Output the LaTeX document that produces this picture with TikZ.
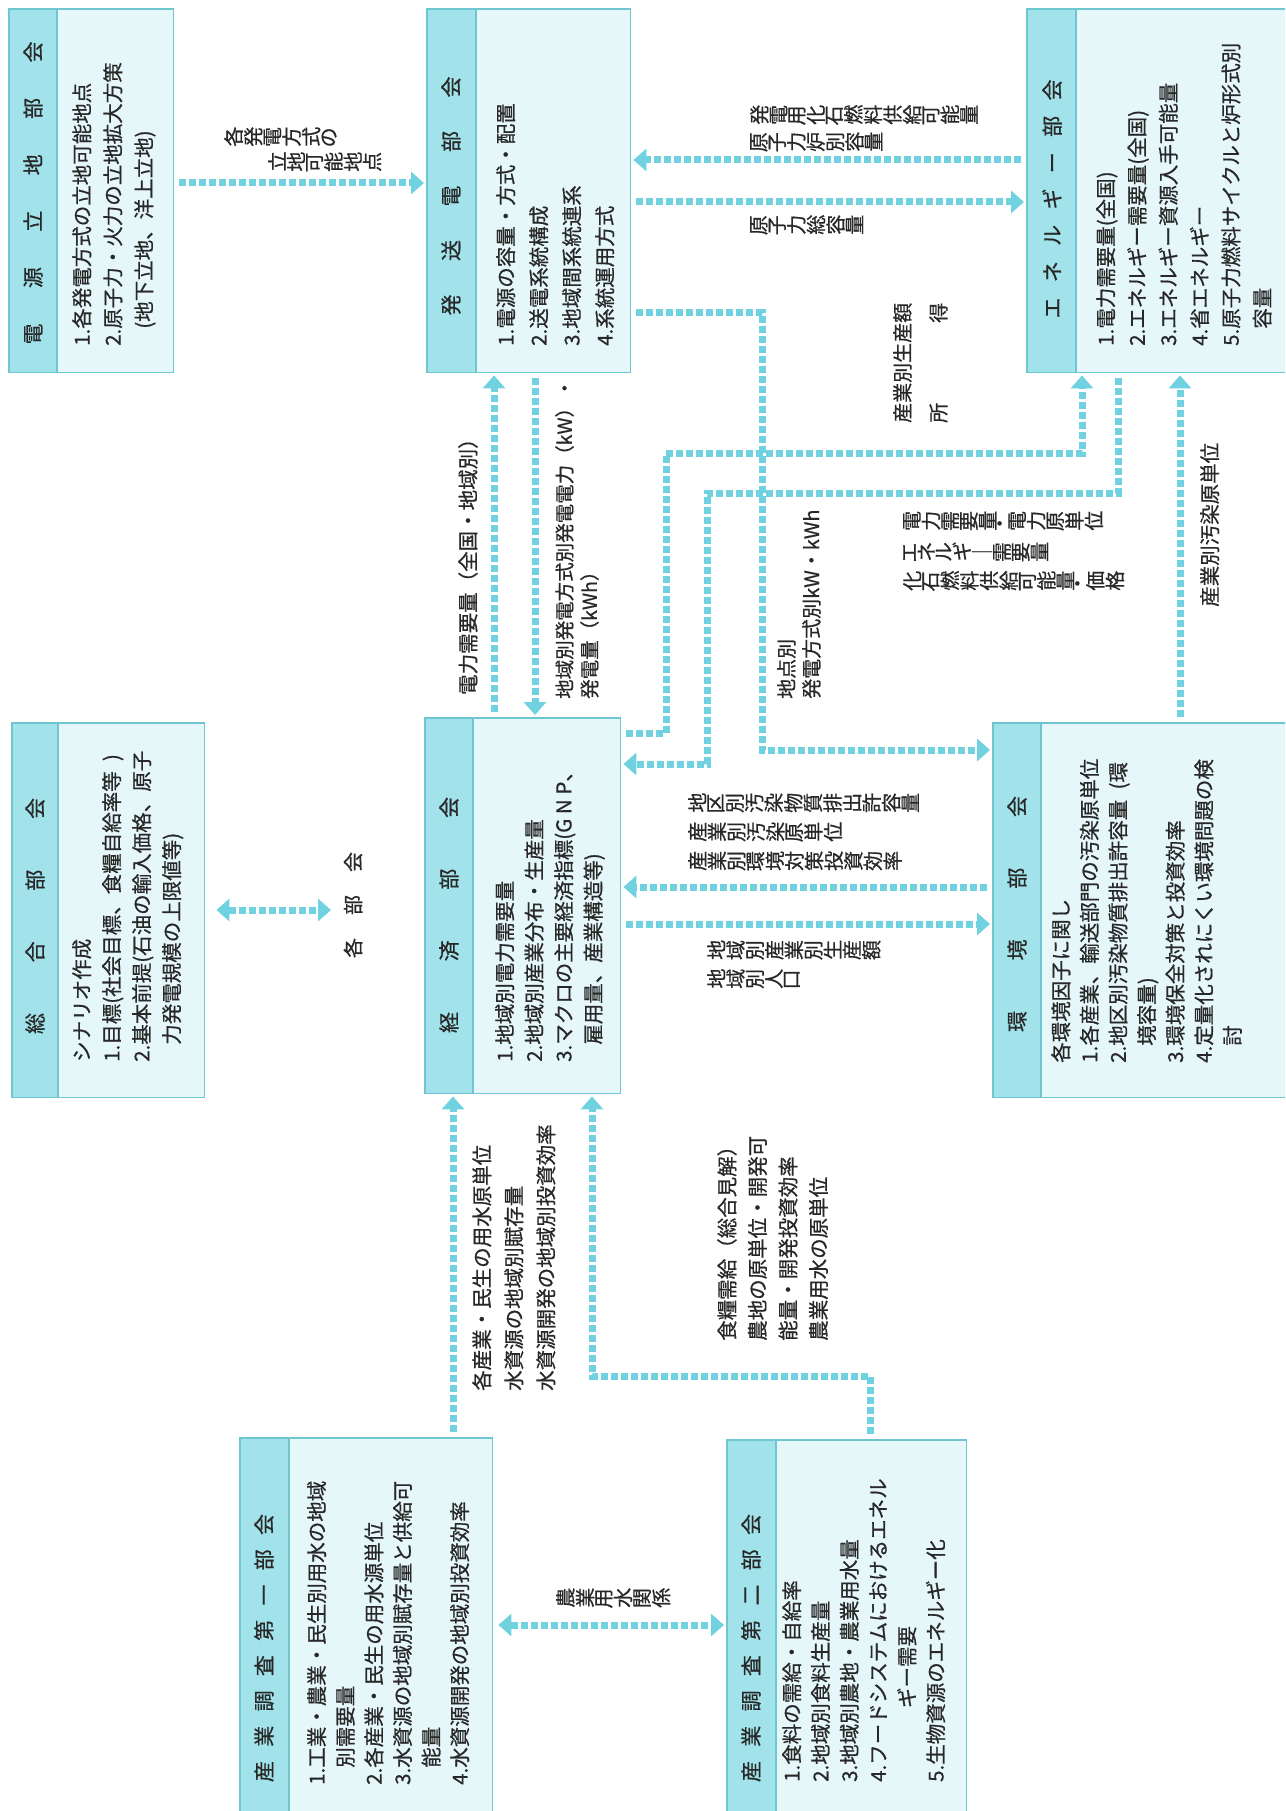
\documentclass[tikz,border=0pt]{standalone}
\usepackage{fontspec}
\setmainfont{Noto Sans CJK JP}[FakeBold=0.6]
\usepackage{graphicx}
\usetikzlibrary{arrows.meta}
\definecolor{arrc}{RGB}{112,210,225}
\definecolor{bdc}{RGB}{110,198,208}
\definecolor{hdc}{RGB}{162,226,234}
\definecolor{bgc}{RGB}{230,247,250}
\definecolor{txc}{RGB}{40,40,40}
\ExplSyntaxOn
\NewDocumentCommand\tate{m}{\tl_map_inline:nn{#1}{\rotatebox[origin=c]{90}{##1}\kern0.06em}}
\ExplSyntaxOff
\newcommand\panel[6]{%
  \node[box, minimum width=#4, minimum height=#5] (#1) at (#2,#3) {};
  \fill[hdc] (#1.north west) rectangle ([xshift=#6]#1.south west);
  \draw[bdc, line width=1.4pt] (#1.north west) rectangle (#1.south east);
  \draw[bdc, line width=1.4pt] ([xshift=#6]#1.north west) -- ([xshift=#6]#1.south west);
}
\begin{document}
\begin{tikzpicture}[x=1pt,y=-1pt,
  every node/.style={text=txc},
  box/.style={rectangle, fill=bgc, draw=none, anchor=north west, inner sep=0pt},
  rt/.style={rotate=90, inner sep=0pt, align=left, anchor=north west},
  ttl/.style={rotate=90, inner sep=0pt, font=\fontsize{21}{24}\selectfont},
  lbl/.style={rotate=90, inner sep=0pt, align=left, anchor=north west, font=\fontsize{20.5}{25}\selectfont},
  tt/.style={inner sep=0pt, anchor=west, font=\fontsize{20}{22}\selectfont},
  arr/.style={draw=arrc, line width=7pt, dash pattern=on 7pt off 3pt,
    -{Triangle[length=13pt,width=22pt,fill=arrc]}, shorten <=6pt, shorten >=3pt},
  darr/.style={draw=arrc, line width=7pt, dash pattern=on 7pt off 3pt,
    {Triangle[length=13pt,width=22pt,fill=arrc]}-{Triangle[length=13pt,width=22pt,fill=arrc]}, shorten <=3pt, shorten >=3pt}
]
\useasboundingbox (0,0) rectangle (1285,1811);
\clip (0,0) rectangle (1285,1811);
\fill[white] (0,0) rectangle (1285,1811);

% panels
\panel{b1}{9}{9}{164pt}{363pt}{48pt}
\panel{b2}{427}{9}{203pt}{363pt}{49pt}
\panel{b3}{1027}{9}{275pt}{363pt}{49pt}
\panel{b4}{12}{723}{192pt}{374pt}{46pt}
\panel{b5}{425}{718}{195pt}{375pt}{48pt}
\panel{b6}{993}{723}{300pt}{374pt}{48pt}
\panel{b7}{240}{1438}{252pt}{390pt}{49pt}
\panel{b8}{727}{1440}{239pt}{390pt}{49pt}

% titles
\node[ttl] (h1) at (33,193) {\makebox[303pt]{電\hfill 源\hfill 立\hfill 地\hfill 部\hfill 会}};
\node[ttl] (h2) at (451,196) {\makebox[239pt]{発\hfill 送\hfill 電\hfill 部\hfill 会}};
\node[ttl] (h3) at (1052,199) {\makebox[239pt]{エ\hfill ネ\hfill ル\hfill ギ\hfill ー\hfill 部\hfill 会}};
\node[ttl] (h4) at (35,916) {\makebox[236pt]{総\hfill 合\hfill 部\hfill 会}};
\node[ttl] (h5) at (449,915) {\makebox[236pt]{経\hfill 済\hfill 部\hfill 会}};
\node[ttl] (h6) at (1017,914) {\makebox[236pt]{環\hfill 境\hfill 部\hfill 会}};
\node[ttl] (h7) at (264,1648) {\makebox[268pt]{産\hfill 業\hfill 調\hfill 査\hfill 第\hfill 一\hfill 部\hfill 会}};
\node[ttl] (h8) at (751,1648) {\makebox[268pt]{産\hfill 業\hfill 調\hfill 査\hfill 第\hfill 二\hfill 部\hfill 会}};

% bodies
\node[rt, font=\fontsize{20.5}{31}\selectfont] (c1) at (72,346)
  {1.各発電方式の立地可能地点\\2.原子力・火力の立地拡大方策\\\phantom{2.}(地下立地、洋上立地)};
\node[rt, font=\fontsize{20.5}{33}\selectfont] (c2) at (496,346)
  {1.電源の容量・方式・配置\\2.送電系統構成\\3.地域間系統連系\\4.系統運用方式};
\node[rt, font=\fontsize{20.5}{31.3}\selectfont] (c3) at (1096,346)
  {1.電力需要量(全国)\\2.エネルギー需要量(全国)\\3.エネルギー資源入手可能量\\4.省エネルギー\\5.原子力燃料サイクルと炉形式別\\\phantom{5.}容量};
\node[rt, font=\fontsize{20.5}{30}\selectfont] (c4) at (72,1062)
  {シナリオ作成\\1.目標(社会目標、食糧自給率等\enspace)\\2.基本前提(石油の輸入価格、原子\\\phantom{2.}力発電規模の上限値等)};
\node[rt, font=\fontsize{20.5}{29.5}\selectfont] (c5) at (495,1062)
  {1.地域別電力需要量\\2.地域別産業分布・生産量\\3.マクロの主要経済指標(G N P、\\\phantom{3.}雇用量、産業構造等)};
\node[rt, font=\fontsize{20.5}{28.6}\selectfont] (c6) at (1051,1063)
  {各環境因子に関し\\1.各産業、輸送部門の汚染原単位\\2.地区別汚染物質排出許容量\enspace(環\\\phantom{2.}境容量)\\3.環境保全対策と投資効率\\4.定量化されにくい環境問題の検\\\phantom{4.}討};
\node[rt, font=\fontsize{20.5}{28.6}\selectfont] (c7) at (307,1785)
  {1.工業・農業・民生別用水の地域\\\phantom{1.}別需要量\\2.各産業・民生の用水源単位\\3.水資源の地域別賦存量と供給可\\\phantom{3.}能量\\4.水資源開発の地域別投資効率};
\node[rt, font=\fontsize{20.5}{28.8}\selectfont] (c8) at (782,1782)
  {1.食料の需給・自給率\\2.地域別食料生産量\\3.地域別農地・農業用水量\\4.フードシステムにおけるエネル\\\hspace*{3.6em}ギー需要\\5.生物資源のエネルギー化};

% rotated labels
\node[lbl] (l1) at (458,695) {電力需要量（全国・地域別）};
\node[lbl, font=\fontsize{19.5}{25}\selectfont] (l2) at (555,699) {地域別発電方式別発電電力（kW）・\\発電量（kWh）};
\node[lbl, font=\fontsize{20}{25}\selectfont] (l3) at (777,699) {地点別\\発電方式別kW・kWh};
\node[lbl, font=\fontsize{20}{36}\selectfont] (l4) at (893,423) {産業別生産額\\\makebox[6em]{所\hfill 得}};
\node[lbl] (l5) at (1200,607) {産業別汚染原単位};
\node[ttl, font=\fontsize{20}{22}\selectfont] (l6) at (353,905) {\makebox[106pt]{各\hfill 部\hfill 会}};
\node[lbl, font=\fontsize{20.5}{32}\selectfont] (l7) at (472,1391)
  {各産業・民生の用水原単位\\水資源の地域別賦存量\\水資源開発の地域別投資効率};
\node[lbl, font=\fontsize{20.5}{30.5}\selectfont] (l8) at (717,1341)
  {食糧需給（総合見解）\\農地の原単位・開発可\\能量・開発投資効率\\農業用水の原単位};

% vertical-writing labels
\node[tt] (m1a) at (224,137) {\tate{各発電方式の}};
\node[tt] (m1b) at (268,162) {\tate{立地可能地点}};
\node[tt] (m2a) at (750,115) {\tate{発電用化石燃料供給可能量}};
\node[tt] (m2b) at (750,142) {\tate{原子力炉別容量}};
\node[tt] (m3) at (750,225) {\tate{原子力総容量}};
\node[tt] (m4a) at (903,522) {\tate{電力需要量・電力原単位}};
\node[tt] (m4b) at (903,552) {\tate{エネルギ｜需要量}};
\node[tt] (m4c) at (903,582) {\tate{化石燃料供給可能量・価格}};
\node[tt] (m5a) at (688,803) {\tate{地区別汚染物質排出許容量}};
\node[tt] (m5b) at (688,832) {\tate{産業別汚染原単位}};
\node[tt] (m5c) at (688,861) {\tate{産業別環境対策投資効率}};
\node[tt] (m6a) at (707,950) {\tate{地域別産業別生産額}};
\node[tt] (m6b) at (707,979) {\tate{地域別人口}};
\node[tt] (m7) at (556,1598) {\tate{農業用水関係}};

% connectors
\draw[arr] (b1.east |- 0,183) -- (b2.west |- 0,183);
\draw[arr] (b3.west |- 0,160) -- (b2.east |- 0,160);
\draw[arr] (b2.east |- 0,202) -- (b3.west |- 0,202);
\draw[arr] (b2.east |- 0,312) -| (762,750) -- (b6.west |- 0,750);
\draw[arr] (b5.east |- 0,733) -| (666,453) -| (b3.south -| 1082,0);
\draw[arr] (b3.south -| 1118,0) |- (707,493) |- (b5.east |- 0,764);
\draw[arr] (b6.north -| 1180,0) -- (b3.south -| 1180,0);
\draw[arr] (b5.north -| 494,0) -- (b2.south -| 494,0);
\draw[arr] (b2.south -| 535,0) -- (b5.north -| 535,0);
\draw[arr] (b6.west |- 0,887) -- (b5.east |- 0,887);
\draw[arr] (b5.east |- 0,924) -- (b6.west |- 0,924);
\coordinate (kb) at (334,910);
\draw[darr, shorten <=12pt] (b4.east |- 0,910) -- (kb);
\draw[arr] (b7.north -| 453,0) -- (b5.south -| 453,0);
\draw[arr] (b8.north -| 870,0) |- (592,1376) -- (b5.south -| 592,0);
\draw[darr, shorten <=6pt] (b7.east |- 0,1625) -- (b8.west |- 0,1625);
\end{tikzpicture}
\end{document}
